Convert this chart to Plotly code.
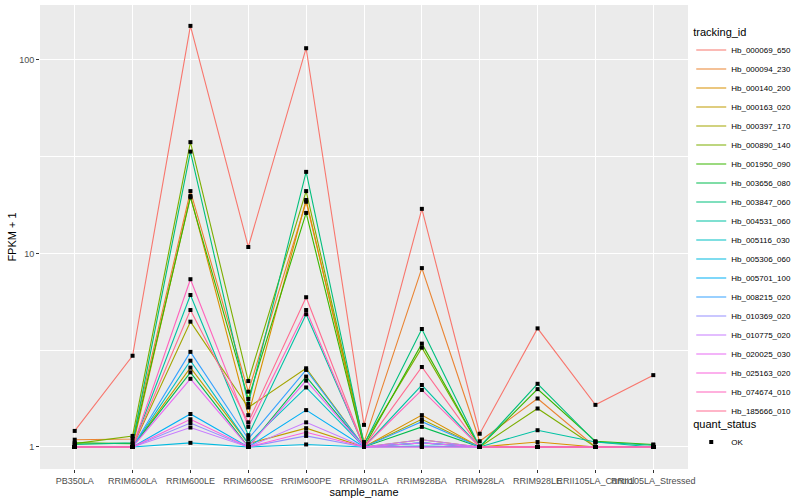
import plotly.graph_objects as go

samples = ["PB350LA", "RRIM600LA", "RRIM600LE", "RRIM600SE", "RRIM600PE", "RRIM901LA",
           "RRIM928BA", "RRIM928LA", "RRIM928LE", "RRII105LA_Control", "RRII105LA_Stressed"]

tracking_ids = ["Hb_000069_650", "Hb_000094_230", "Hb_000140_200", "Hb_000163_020",
                "Hb_000397_170", "Hb_000890_140", "Hb_001950_090", "Hb_003656_080",
                "Hb_003847_060", "Hb_004531_060", "Hb_005116_030", "Hb_005306_060",
                "Hb_005701_100", "Hb_008215_020", "Hb_010369_020", "Hb_010775_020",
                "Hb_020025_030", "Hb_025163_020", "Hb_074674_010", "Hb_185666_010"]

colors = ["#F8766D", "#EA8331", "#D89000", "#C09B00", "#A3A500", "#7CAE00", "#39B600",
          "#00BB4E", "#00BF7D", "#00C1A3", "#00BFC4", "#00BAE0", "#00B0F6", "#35A2FF",
          "#9590FF", "#C77CFF", "#E76BF3", "#FA62DB", "#FF62BC", "#FF6C91"]

hb_000069_650 = [1.21, 2.96, 150, 10.8, 115, 1.30, 17.0, 1.17, 4.1, 1.65, 2.35]
hb_000094_230 = [1.09, 1.10, 21.0, 1.93, 18.5, 1.06, 8.4, 1.07, 1.78, 1.00, 1.00]
hb_000140_200 = [1.00, 1.00, 19.8, 1.46, 18.9, 1.00, 1.46, 1.00, 1.06, 1.00, 1.00]
hb_000163_020 = [1.00, 1.00, 2.57, 1.04, 1.25, 1.00, 1.09, 1.00, 1.00, 1.00, 1.00]
hb_000397_170 = [1.00, 1.00, 4.44, 1.60, 2.55, 1.00, 1.39, 1.00, 1.00, 1.00, 1.00]
hb_000890_140 = [1.04, 1.14, 37.6, 2.19, 21.0, 1.04, 3.26, 1.00, 1.58, 1.00, 1.00]
hb_001950_090 = [1.05, 1.04, 19.5, 1.77, 16.2, 1.00, 3.42, 1.00, 1.99, 1.07, 1.03]
hb_003656_080 = [1.00, 1.00, 2.43, 1.00, 2.31, 1.00, 1.27, 1.00, 1.00, 1.00, 1.00]
hb_003847_060 = [1.03, 1.05, 33.6, 1.67, 26.4, 1.03, 4.07, 1.00, 2.12, 1.06, 1.02]
hb_004531_060 = [1.00, 1.00, 6.1, 1.15, 4.85, 1.00, 2.09, 1.00, 1.22, 1.06, 1.00]
hb_005116_030 = [1.00, 1.00, 2.79, 1.04, 2.03, 1.00, 1.05, 1.00, 1.00, 1.00, 1.00]
hb_005306_060 = [1.00, 1.00, 1.05, 1.00, 1.03, 1.00, 1.01, 1.00, 1.00, 1.00, 1.00]
hb_005701_100 = [1.00, 1.00, 1.48, 1.00, 1.55, 1.00, 1.05, 1.00, 1.00, 1.00, 1.00]
hb_008215_020 = [1.00, 1.00, 3.10, 1.10, 2.50, 1.00, 1.35, 1.00, 1.00, 1.00, 1.00]
hb_010369_020 = [1.00, 1.00, 1.33, 1.00, 1.14, 1.00, 1.00, 1.00, 1.00, 1.00, 1.00]
hb_010775_020 = [1.00, 1.00, 1.26, 1.00, 1.34, 1.00, 1.09, 1.00, 1.00, 1.00, 1.00]
hb_020025_030 = [1.00, 1.00, 2.25, 1.00, 2.20, 1.00, 1.05, 1.00, 1.00, 1.00, 1.00]
hb_025163_020 = [1.00, 1.00, 1.39, 1.00, 1.19, 1.00, 1.00, 1.00, 1.00, 1.00, 1.00]
hb_074674_010 = [1.00, 1.00, 7.36, 1.27, 5.10, 1.00, 1.97, 1.00, 1.00, 1.00, 1.00]
hb_185666_010 = [1.00, 1.00, 5.10, 1.34, 5.94, 1.00, 2.59, 1.00, 1.00, 1.00, 1.00]

series = [hb_000069_650, hb_000094_230, hb_000140_200, hb_000163_020, hb_000397_170,
          hb_000890_140, hb_001950_090, hb_003656_080, hb_003847_060, hb_004531_060,
          hb_005116_030, hb_005306_060, hb_005701_100, hb_008215_020, hb_010369_020,
          hb_010775_020, hb_020025_030, hb_025163_020, hb_074674_010, hb_185666_010]

FONT = "Liberation Sans, Arial, sans-serif"

fig = go.Figure()
for name, vals, col in zip(tracking_ids, series, colors):
    fig.add_trace(go.Scatter(x=samples, y=vals, mode="lines", name=name,
                             line=dict(color=col, width=1.1), legend="legend"))

all_x = [s for vals in series for s in samples]
all_y = [v for vals in series for v in vals]
fig.add_trace(go.Scatter(x=all_x, y=all_y, mode="markers", name="OK",
                         marker=dict(color="black", size=4, symbol="square"),
                         legend="legend2"))

fig.update_layout(
    width=800, height=500,
    margin=dict(l=40, r=112, t=5, b=31, autoexpand=False),
    paper_bgcolor="white", plot_bgcolor="#EBEBEB",
    font=dict(family=FONT, color="black"),
    legend=dict(title=dict(text="tracking_id", font=dict(size=11)),
                font=dict(size=8), x=1.005, xanchor="left", y=0.965, yanchor="top",
                bgcolor="rgba(0,0,0,0)", tracegroupgap=0, itemwidth=30),
    legend2=dict(title=dict(text="quant_status", font=dict(size=11)),
                 font=dict(size=8), x=1.005, xanchor="left", y=0.12, yanchor="top",
                 bgcolor="rgba(0,0,0,0)"),
    xaxis=dict(type="category", categoryorder="array", categoryarray=samples,
               range=[-0.6, len(samples) - 0.4], showgrid=True, gridcolor="white",
               gridwidth=1.1, zeroline=False, ticks="outside", ticklen=3,
               tickcolor="#333333", tickfont=dict(size=9, color="#4D4D4D"),
               tickangle=0, automargin=False,
               title=dict(text="sample_name", font=dict(size=11), standoff=3)),
    yaxis=dict(type="log", range=[-0.114, 2.284], tickvals=[1, 10, 100],
               ticktext=["1", "10", "100"], showgrid=True, gridcolor="white",
               gridwidth=1.1, zeroline=False, ticks="outside", ticklen=3,
               tickcolor="#333333", tickfont=dict(size=9, color="#4D4D4D"),
               automargin=False,
               minor=dict(tickvals=[10 ** 0.5, 10 ** 1.5], showgrid=True,
                          gridcolor="white", gridwidth=0.5, ticks=""),
               title=dict(text="FPKM + 1", font=dict(size=11), standoff=0)),
)

fig.write_html("out.html", config={"displayModeBar": False},
               post_script="document.body.style.margin='0';")
